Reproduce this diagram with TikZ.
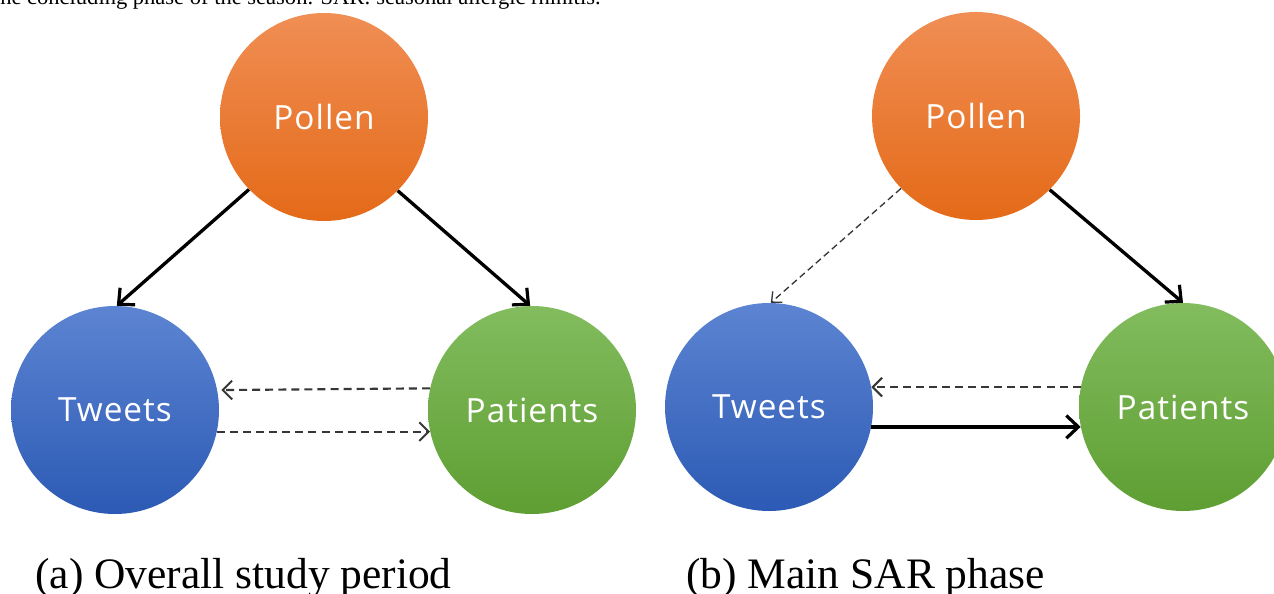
\documentclass[tikz,border=0pt]{standalone}
\usepackage{fontspec}
\setmainfont{Liberation Serif}
\newfontfamily\nodefont[LetterSpace=3]{Open Sans}
\usetikzlibrary{arrows.meta}
\definecolor{orTop}{RGB}{240,142,84}
\definecolor{orBot}{RGB}{228,106,24}
\definecolor{blTop}{RGB}{92,132,210}
\definecolor{blBot}{RGB}{44,90,180}
\definecolor{grTop}{RGB}{130,188,94}
\definecolor{grBot}{RGB}{94,158,50}
\definecolor{dashgray}{RGB}{55,55,55}
\tikzset{
  ball/.style={circle, inner sep=0pt, minimum size=156pt, text=white,
    font=\nodefont\fontsize{25}{30}\selectfont},
  pollenball/.style={ball, top color=orTop, bottom color=orBot},
  tweetball/.style={ball, top color=blTop, bottom color=blBot},
  patientball/.style={ball, top color=grTop, bottom color=grBot},
  strong/.style={line width=2.5pt, black, -{Straight Barb[length=9pt,width=17pt,line width=2.4pt]}},
  weak/.style={line width=1.6pt, dashgray, dash pattern=on 6pt off 3.8pt,
    -{Straight Barb[length=7pt,width=14pt,line width=1.5pt]}},
  weakthin/.style={line width=1pt, dashgray, dash pattern=on 5pt off 3pt,
    -{Straight Barb[length=6pt,width=11pt,line width=1pt]}},
  caption/.style={anchor=base west, inner sep=0pt, font=\fontsize{32.6}{36}\selectfont},
  toptext/.style={anchor=base west, inner sep=0pt, font=\fontsize{16.9}{20}\selectfont}
}
\begin{document}
\begin{tikzpicture}[x=0.75pt, y=-0.75pt]
\clip (0,0) rectangle (1274,593);
\fill[white] (0,0) rectangle (1274,593);
\node[toptext] (top) at (0,4.5) {he concluding phase of the season. SAR: seasonal allergic rhinitis.};

% (a)
\node[pollenball] (pa) at (324,117) {Pollen};
\node[tweetball] (ta) at (115,410) {Tweets};
\node[patientball] (qa) at (532,410) {Patients};
\draw[strong] (pa.224) -- (ta.89);
\draw[strong] (pa.315.4) -- (qa.91);
\draw[weak, shorten >=3pt] (qa.168.5) -- (ta.11);
\draw[weak] (ta.-12) -- (qa.192);
\node[caption] (capa) at (35,588) {(a) Overall study period};

% (b)
\node[pollenball] (pb) at (976,116) {Pollen};
\node[tweetball] (tb) at (769,407) {Tweets};
\node[patientball] (qb) at (1183,407) {Patients};
\draw[weakthin] (pb.224) -- (tb.89.5);
\draw[strong] (pb.315) -- (qb.90.5);
\draw[weak] (qb.169) -- (tb.11);
\draw[strong] (tb.-11.5) -- (qb.191.5);
\node[caption] (capb) at (686,588) {(b) Main SAR phase};
\end{tikzpicture}
\end{document}
